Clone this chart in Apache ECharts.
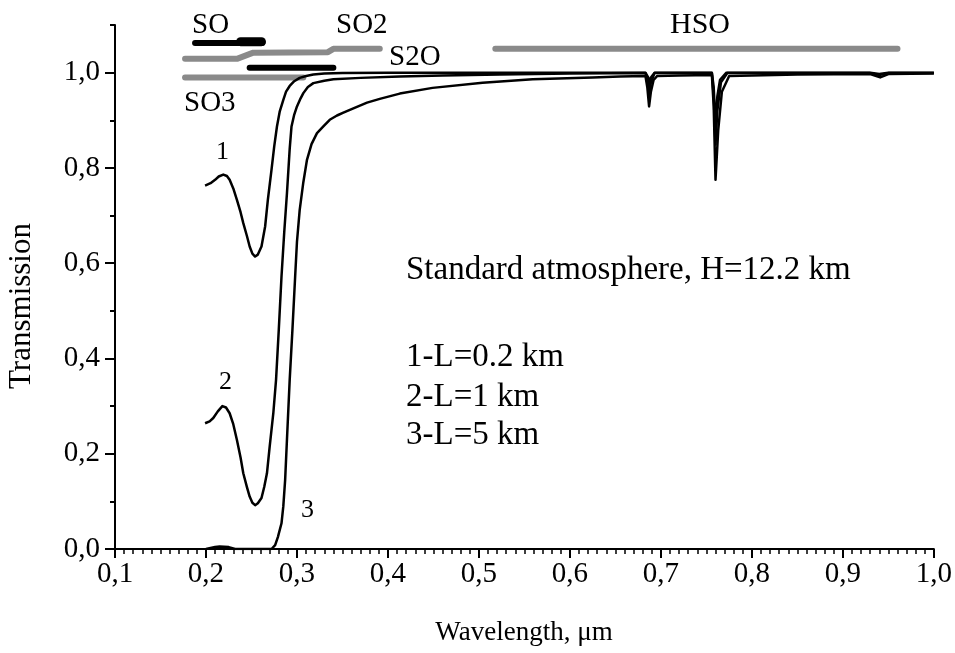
<!DOCTYPE html>
<html>
<head>
<meta charset="utf-8">
<script src="https://cdn.jsdelivr.net/npm/echarts@6/dist/echarts.min.js"></script>
<style>
html,body{margin:0;padding:0;background:#fff;}
#chart{width:955px;height:653px;}
</style>
</head>
<body>
<div id="chart"></div>
<script>
// ---------- data ----------
const xTicks = [0.1,0.2,0.3,0.4,0.5,0.6,0.7,0.8,0.9,1.0];
const yMajorTicks = [0,0.2,0.4,0.6,0.8,1.0];
const yMinorTicks = [0.1,0.3,0.5,0.7,0.9,1.1];

const curve1X = [0.199,0.205,0.210,0.214,0.219,0.223,0.226,0.230,0.234,0.238,0.241,0.245,0.248,0.251,0.254,0.257,0.261,0.265,0.268,0.272,0.275,0.278,0.281,0.285,0.288,0.292,0.297,0.303,0.310,0.318,0.330,0.35,0.40,0.50,0.60,0.683,0.686,0.687,0.689,0.693,0.756,0.758,0.760,0.762,0.765,0.772,0.93,0.94,0.95,1.0];
const curve1T = [0.763,0.768,0.775,0.782,0.786,0.783,0.775,0.757,0.733,0.707,0.684,0.657,0.635,0.620,0.614,0.618,0.635,0.677,0.733,0.796,0.845,0.887,0.918,0.943,0.960,0.972,0.982,0.989,0.993,0.996,0.998,0.999,1.0,1.0,1.0,1.0,0.99,0.975,0.99,1.0,1.0,0.97,0.887,0.95,0.985,1.0,1.0,0.997,1.0,1.0];

const curve2X = [0.199,0.204,0.208,0.213,0.218,0.222,0.226,0.230,0.234,0.238,0.241,0.245,0.248,0.251,0.254,0.257,0.261,0.264,0.267,0.270,0.274,0.277,0.280,0.283,0.286,0.289,0.292,0.294,0.297,0.300,0.304,0.307,0.312,0.318,0.33,0.34,0.37,0.413,0.46,0.523,0.60,0.683,0.686,0.687,0.689,0.693,0.756,0.758,0.760,0.762,0.766,0.773,0.93,0.94,0.95,1.0];
const curve2T = [0.264,0.268,0.275,0.289,0.300,0.297,0.285,0.262,0.229,0.192,0.159,0.130,0.110,0.097,0.092,0.096,0.107,0.130,0.159,0.215,0.285,0.355,0.46,0.572,0.665,0.747,0.840,0.887,0.912,0.929,0.946,0.957,0.970,0.978,0.983,0.986,0.989,0.992,0.994,0.996,0.998,0.999,0.98,0.954,0.98,0.999,0.999,0.95,0.849,0.92,0.98,0.999,0.999,0.995,0.999,0.999];

const curve3X = [0.200,0.210,0.215,0.225,0.232,0.240,0.272,0.276,0.279,0.283,0.285,0.287,0.289,0.292,0.295,0.298,0.300,0.303,0.307,0.311,0.316,0.322,0.329,0.336,0.344,0.351,0.362,0.377,0.391,0.413,0.449,0.504,0.559,0.625,0.655,0.683,0.685,0.687,0.689,0.692,0.696,0.72,0.756,0.758,0.760,0.763,0.767,0.775,0.85,0.93,0.941,0.95,1.0];
const curve3T = [0,0.004,0.005,0.004,0,0,0,0.008,0.025,0.054,0.09,0.145,0.23,0.355,0.46,0.572,0.645,0.712,0.77,0.817,0.85,0.873,0.887,0.901,0.910,0.916,0.925,0.937,0.945,0.956,0.968,0.979,0.986,0.990,0.992,0.993,0.97,0.929,0.96,0.985,0.993,0.994,0.995,0.93,0.775,0.88,0.96,0.993,0.996,0.997,0.99,0.997,0.998];

// absorption band bars (wavelength, level)
const bandSO = [[0.188,1.062],[0.262,1.062]];
const bandSOthick = [[0.238,1.065],[0.261,1.065]];
const bandSO2 = [[0.177,1.029],[0.234,1.029],[0.252,1.042],[0.334,1.043],[0.340,1.050],[0.391,1.050]];
const bandS2O = [[0.248,1.010],[0.340,1.010]];
const bandSO3 = [[0.177,0.990],[0.307,0.990]];
const bandHSO = [[0.518,1.050],[0.960,1.050]];

const bandNames = ['SO','SO2','S2O','SO3','HSO'];
const curveNames = ['1','2','3'];
const noteLines = ['Standard atmosphere, H=12.2 km','1-L=0.2 km','2-L=1 km','3-L=5 km'];
const xTitle = 'Wavelength, \u03bcm';
const yTitle = 'Transmission';

// ---------- chart ----------
const FONT = '"Liberation Serif", "Times New Roman", serif';
const zip = (xs, ys) => xs.map((x, i) => [x, ys[i]]);
const fmt = v => v.toFixed(1).replace('.', ',');

const chart = echarts.init(document.getElementById('chart'), null, {renderer: 'canvas'});

function lineSeries(name, data, color, width, cap) {
  return {
    name, type: 'line', data, showSymbol: false, symbol: 'none',
    xAxisIndex: 0, yAxisIndex: 0, animation: false, silent: true,
    lineStyle: {color, width, cap: cap || 'butt', join: 'round'},
    z: 3
  };
}

function txt(text, x, y, size, align, extra) {
  align = align || 'left';
  return Object.assign({
    type: 'text', x, y, z: 100,
    style: {text, font: size + 'px ' + FONT, fill: '#000',
            align: align, verticalAlign: 'middle',
            textAlign: align, textVerticalAlign: 'middle'}
  }, extra || {});
}

const option = {
  backgroundColor: '#fff',
  animation: false,
  grid: {left: 115, right: 21, top: 25, bottom: 104, containLabel: false},
  xAxis: {
    type: 'value', min: 0.1, max: 1.0, interval: 0.1,
    axisLine: {show: true, lineStyle: {color: '#000', width: 2}},
    axisTick: {show: true, inside: false, length: 9, lineStyle: {color: '#000', width: 2}},
    minorTick: {show: true, splitNumber: 10, length: 5, lineStyle: {color: '#000', width: 1.5}},
    splitLine: {show: false},
    axisLabel: {color: '#000', fontFamily: FONT, fontSize: 29, margin: 11,
                formatter: v => fmt(v)}
  },
  yAxis: [{
    type: 'value', min: 0, max: 1.1, interval: 0.1, position: 'left',
    axisLine: {show: true, lineStyle: {color: '#000', width: 2}},
    axisTick: {show: true, inside: false, length: 5, customValues: yMinorTicks, lineStyle: {color: '#000', width: 2}},
    splitLine: {show: false},
    axisLabel: {color: '#000', fontFamily: FONT, fontSize: 29, margin: 15,
                customValues: yMajorTicks, formatter: v => fmt(v)}
  }, {
    type: 'value', min: 0, max: 1.1, interval: 0.1, position: 'left', offset: 0,
    axisLine: {show: false},
    axisTick: {show: true, inside: false, length: 10, customValues: yMajorTicks, lineStyle: {color: '#000', width: 2}},
    splitLine: {show: false},
    axisLabel: {show: false}
  }],
  series: [
    lineSeries('SO2', bandSO2, '#8a8a8a', 6, 'round'),
    lineSeries('SO3', bandSO3, '#8a8a8a', 6, 'round'),
    lineSeries('HSO', bandHSO, '#8a8a8a', 6, 'round'),
    lineSeries('SO', bandSO, '#000', 6, 'round'),
    lineSeries('SOthick', bandSOthick, '#000', 9, 'round'),
    lineSeries('S2O', bandS2O, '#000', 6, 'round'),
    lineSeries('curve 1', zip(curve1X, curve1T), '#000', 2.5),
    lineSeries('curve 2', zip(curve2X, curve2T), '#000', 2.5),
    lineSeries('curve 3', zip(curve3X, curve3T), '#000', 2.5)
  ],
  graphic: [
    txt(bandNames[0], 192, 25, 29),
    txt(bandNames[1], 336, 25, 29),
    txt(bandNames[2], 389, 57, 29),
    txt(bandNames[3], 184, 103, 29),
    txt(bandNames[4], 700, 25, 30, 'center'),
    txt(curveNames[0], 216, 152, 26),
    txt(curveNames[1], 219, 382, 26),
    txt(curveNames[2], 301, 510, 26),
    txt(noteLines[0], 406, 270, 33),
    txt(noteLines[1], 406, 357, 33),
    txt(noteLines[2], 406, 397, 33),
    txt(noteLines[3], 406, 435, 33),
    txt(xTitle, 524, 633, 27, 'center'),
    txt(yTitle, 22, 306, 31, 'center', {rotation: Math.PI / 2})
  ]
};
chart.setOption(option);
</script>
</body>
</html>
